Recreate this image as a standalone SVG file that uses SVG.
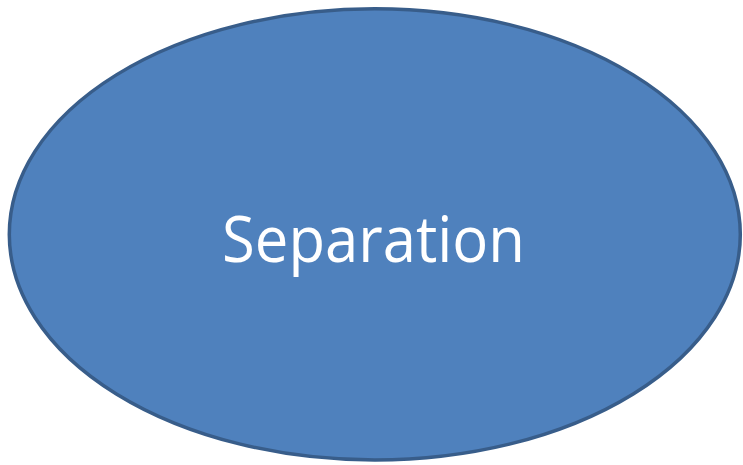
<svg xmlns="http://www.w3.org/2000/svg" width="743" height="465" viewBox="0 0 743 465">
  <style>
    .node-shape { fill: #4F81BD; stroke: #385D8A; stroke-width: 3.5; }
    .node-label { fill: #FFFFFF; font-family: "Open Sans", "Liberation Sans", sans-serif; font-size: 64px; }
  </style>
  <rect width="743" height="465" fill="#FFFFFF"/>
  <g id="connectors"></g>
  <g id="node-separation">
    <ellipse class="node-shape" cx="374.8" cy="234.4" rx="365.5" ry="225.6"/>
    <text class="node-label" x="373.5" y="262" text-anchor="middle" textLength="303" lengthAdjust="spacingAndGlyphs">Separation</text>
  </g>
</svg>
